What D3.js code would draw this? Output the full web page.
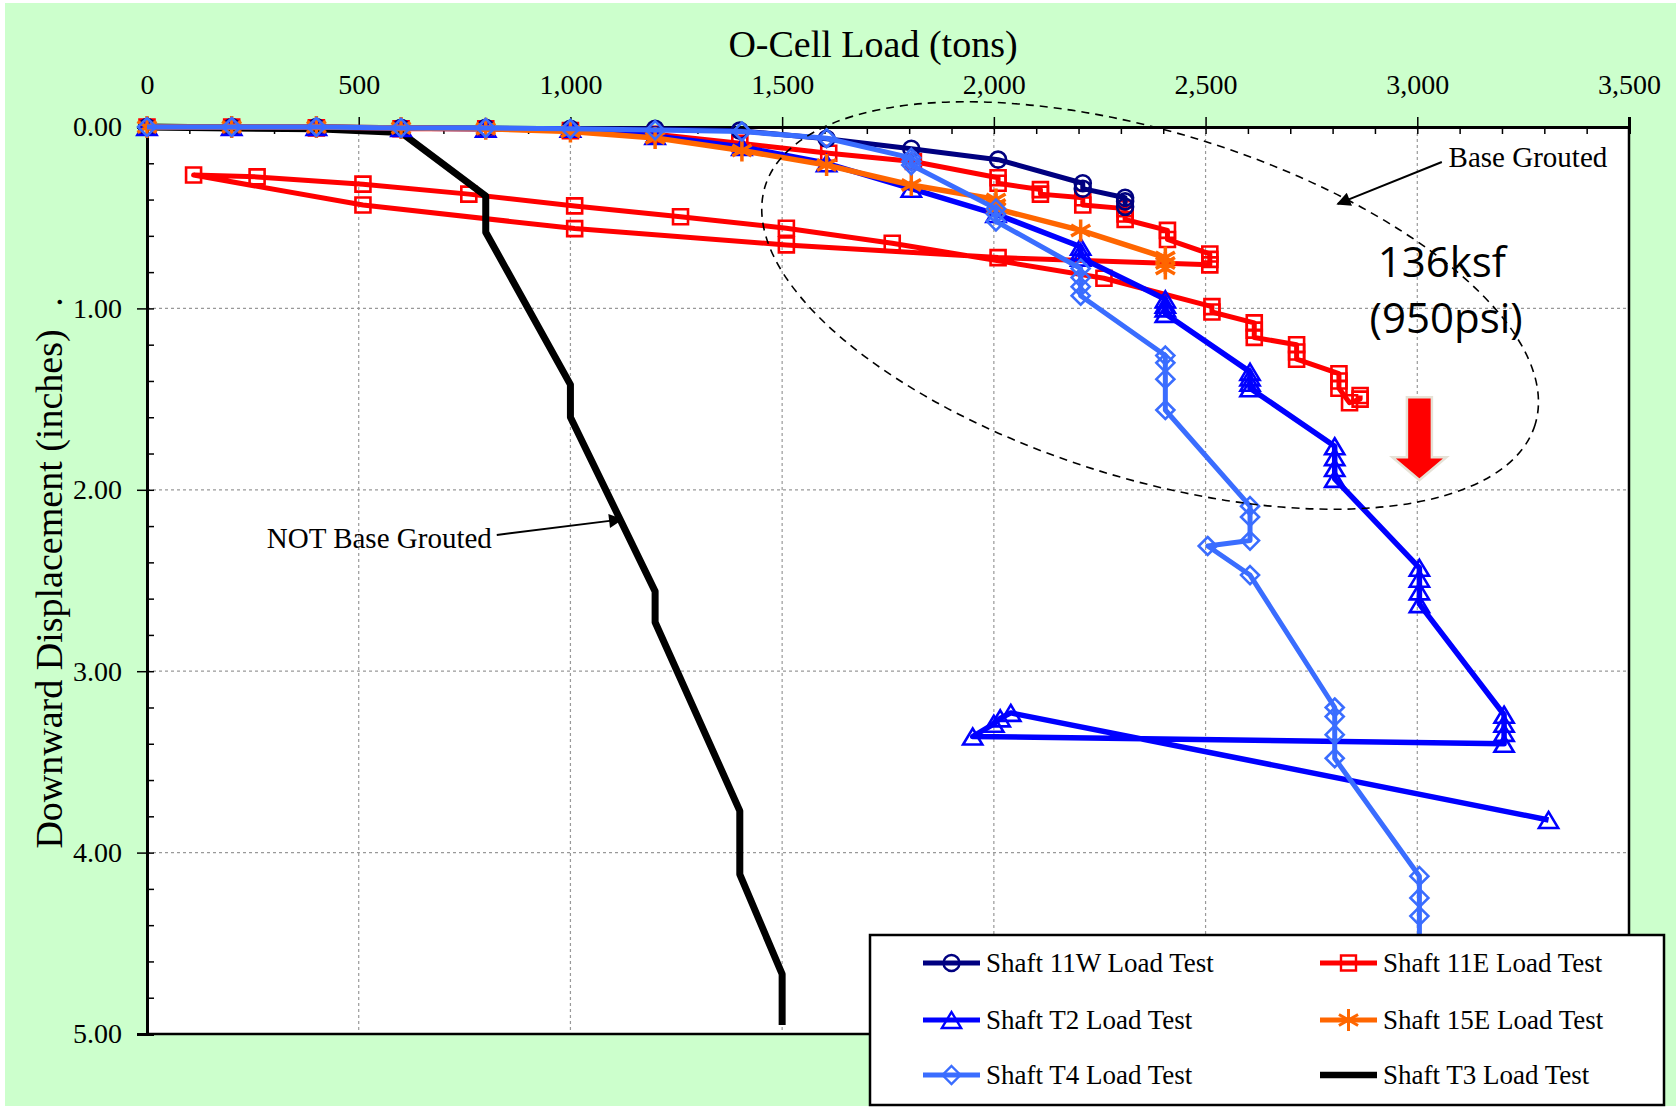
<!DOCTYPE html>
<html>
<head>
<meta charset="utf-8">
<script src="https://cdn.jsdelivr.net/npm/d3@7"></script>
<style>
  body { margin: 0; background: #fff; }
  text { font-family: "Liberation Serif", "Times New Roman", serif; fill: #000; }
</style>
</head>
<body>
<svg id="chart"></svg>
<script>
// axis ticks
const xTicks = [0, 500, 1000, 1500, 2000, 2500, 3000, 3500];
const yTicks = [0, 1, 2, 3, 4, 5];

// Shaft 11W
const w11Load = [0, 200, 400, 600, 800, 1000, 1200, 1400, 1605, 1805, 2010, 2210, 2210, 2310, 2310, 2310];
const w11Disp = [0, 0, 0, 0.005, 0.005, 0.01, 0.01, 0.02, 0.065, 0.12, 0.18, 0.31, 0.34, 0.39, 0.41, 0.44];

// Shaft 11E (load, unload, reload)
const e11Load = [0, 200, 400, 600, 800, 1000, 1200, 1400, 1610, 1810, 2010, 2010, 2110, 2110, 2210, 2210,
  2310, 2310, 2310, 2410, 2410, 2510, 2510, 2510,
  2010, 1510, 1010, 510, 110,
  260, 510, 760, 1010, 1260, 1510, 1760, 2260, 2515, 2515,
  2615, 2615, 2615, 2715, 2715, 2715, 2815, 2815, 2815, 2840, 2865, 2865];
const e11Disp = [0, 0, 0.005, 0.01, 0.01, 0.02, 0.04, 0.09, 0.145, 0.19, 0.28, 0.31, 0.345, 0.37, 0.39, 0.43,
  0.45, 0.48, 0.51, 0.57, 0.62, 0.70, 0.73, 0.76,
  0.72, 0.65, 0.56, 0.43, 0.265,
  0.275, 0.315, 0.37, 0.435, 0.495, 0.558, 0.641, 0.834, 0.99, 1.02,
  1.08, 1.12, 1.16, 1.20, 1.24, 1.28, 1.36, 1.40, 1.44, 1.52, 1.50, 1.48];

// Shaft T2
const t2Load = [0, 200, 400, 600, 800, 1000, 1200, 1405, 1605, 1805, 2005, 2205, 2205, 2205,
  2405, 2405, 2405, 2405, 2605, 2605, 2605, 2605, 2805, 2805, 2805, 2805,
  3005, 3005, 3005, 3005, 3205, 3205, 3205, 3205, 1950, 2000, 2015, 2040, 3310];
const t2Disp = [0, 0, 0, 0.005, 0.01, 0.01, 0.05, 0.11, 0.20, 0.34, 0.48, 0.66, 0.69, 0.72,
  0.95, 0.98, 1.00, 1.03, 1.35, 1.38, 1.41, 1.44, 1.76, 1.82, 1.88, 1.94,
  2.43, 2.49, 2.56, 2.63, 3.24, 3.29, 3.34, 3.40, 3.36, 3.29, 3.26, 3.23, 3.82];

// Shaft 15E
const e15Load = [0, 200, 400, 600, 800, 1000, 1200, 1405, 1605, 1805, 2005, 2005, 2005, 2205, 2405, 2405, 2405];
const e15Disp = [0, 0, 0, 0.005, 0.01, 0.025, 0.06, 0.13, 0.21, 0.32, 0.40, 0.43, 0.45, 0.57, 0.72, 0.75, 0.78];

// Shaft T4
const t4Load = [0, 200, 400, 600, 800, 1000, 1200, 1405, 1605, 1805, 1805, 1805, 2005, 2005, 2005,
  2205, 2205, 2205, 2205, 2405, 2405, 2405, 2405, 2605, 2605, 2605, 2505, 2605,
  2805, 2805, 2805, 2805, 3005, 3005, 3005, 3005];
const t4Disp = [0, 0, 0, 0.005, 0.005, 0.01, 0.017, 0.025, 0.062, 0.17, 0.19, 0.21, 0.45, 0.48, 0.52,
  0.78, 0.83, 0.88, 0.93, 1.26, 1.30, 1.39, 1.56, 2.09, 2.15, 2.28, 2.31, 2.47,
  3.20, 3.25, 3.35, 3.48, 4.13, 4.25, 4.35, 4.60];

// Shaft T3 (not base grouted)
const t3Load = [0, 200, 400, 600, 800, 800, 1000, 1000, 1200, 1200, 1400, 1400, 1500, 1500];
const t3Disp = [0, 0.005, 0.01, 0.03, 0.38, 0.58, 1.42, 1.60, 2.56, 2.73, 3.77, 4.12, 4.67, 4.95];

const W = 1680, H = 1108;
const svg = d3.select("#chart").attr("width", W).attr("height", H);

svg.append("rect").attr("x", 5).attr("y", 3).attr("width", 1671).attr("height", 1103).attr("fill", "#ccffcc");

const x = d3.scaleLinear().domain([0, 3500]).range([147, 1629]);
const y = d3.scaleLinear().domain([0, 5]).range([127, 1034]);

svg.append("rect")
  .attr("x", x(0)).attr("y", y(0))
  .attr("width", x(3500) - x(0)).attr("height", y(5) - y(0))
  .attr("fill", "#fff");

// grid
svg.append("g").selectAll("line")
  .data(xTicks.slice(1, -1))
  .enter().append("line")
  .attr("x1", d => x(d)).attr("x2", d => x(d))
  .attr("y1", y(0)).attr("y2", y(5))
  .attr("stroke", "#999").attr("stroke-width", 1.2).attr("stroke-dasharray", "3,3");
svg.append("g").selectAll("line")
  .data(yTicks.slice(1, -1))
  .enter().append("line")
  .attr("y1", d => y(d)).attr("y2", d => y(d))
  .attr("x1", x(0)).attr("x2", x(3500))
  .attr("stroke", "#999").attr("stroke-width", 1.2).attr("stroke-dasharray", "3,3");

// frame right/bottom
svg.append("path")
  .attr("d", `M${x(0)},${y(5)}H${x(3500)}V${y(0)}`)
  .attr("fill", "none").attr("stroke", "#000").attr("stroke-width", 2.5);

// axes
svg.append("g")
  .attr("transform", `translate(0,${y(0)})`)
  .call(d3.axisTop(x).tickValues(xTicks).tickFormat(d3.format(",")).tickSize(10).tickPadding(23));
svg.append("g")
  .attr("transform", `translate(0,${y(0)})`)
  .call(d3.axisTop(x).tickValues(d3.range(0, 3501, 100)).tickFormat("").tickSize(-7));
svg.append("g")
  .attr("transform", `translate(${x(0)},0)`)
  .call(d3.axisLeft(y).tickValues(yTicks).tickFormat(d3.format(".2f")).tickSize(10).tickPadding(15));
svg.append("g")
  .attr("transform", `translate(${x(0)},0)`)
  .call(d3.axisLeft(y).tickValues(d3.range(0, 5.01, 0.2)).tickFormat("").tickSize(-7));

svg.selectAll(".domain").attr("stroke-width", 3).attr("stroke", "#000");
svg.selectAll(".tick line").attr("stroke", "#000").attr("stroke-width", 1.5);
svg.selectAll(".tick text")
  .style("font-family", '"Liberation Serif", "Times New Roman", serif')
  .style("font-size", "28px").attr("fill", "#000");

// titles
svg.append("text")
  .attr("x", 873).attr("y", 57)
  .attr("text-anchor", "middle")
  .style("font-size", "38px")
  .text("O-Cell Load (tons)");
svg.append("text")
  .attr("transform", "translate(62,589) rotate(-90)")
  .attr("text-anchor", "middle")
  .style("font-size", "38px")
  .text("Downward Displacement (inches)");
svg.append("text")
  .attr("transform", "translate(62,302) rotate(-90)")
  .attr("text-anchor", "middle")
  .style("font-size", "38px")
  .text(".");

// markers
const markerPath = {
  circle: r => `M${-r},0a${r},${r} 0 1,0 ${2 * r},0a${r},${r} 0 1,0 ${-2 * r},0`,
  square: r => `M${-r},${-r}h${2 * r}v${2 * r}h${-2 * r}Z`,
  triangle: r => `M0,${-r}L${r * 1.2},${r}L${-r * 1.2},${r}Z`,
  diamond: r => `M0,${-r}L${r},0L0,${r}L${-r},0Z`,
  asterisk: r => `M0,${-r}V${r}M${-r * 0.87},${-r / 2}L${r * 0.87},${r / 2}M${-r * 0.87},${r / 2}L${r * 0.87},${-r / 2}`
};

const series = [
  { name: "Shaft 11W Load Test", loads: w11Load, disp: w11Disp, color: "#000080", width: 5, marker: "circle", r: 8 },
  { name: "Shaft 11E Load Test", loads: e11Load, disp: e11Disp, color: "#ff0000", width: 5, marker: "square", r: 7.5 },
  { name: "Shaft T2 Load Test", loads: t2Load, disp: t2Disp, color: "#0000ff", width: 5.5, marker: "triangle", r: 8 },
  { name: "Shaft 15E Load Test", loads: e15Load, disp: e15Disp, color: "#ff6600", width: 5.5, marker: "asterisk", r: 11 },
  { name: "Shaft T4 Load Test", loads: t4Load, disp: t4Disp, color: "#3a6dff", width: 5, marker: "diamond", r: 9 },
  { name: "Shaft T3 Load Test", loads: t3Load, disp: t3Disp, color: "#000000", width: 7, marker: null }
];

// 11E, T3, 11W, T2, 15E, T4
const drawOrder = [1, 5, 0, 2, 3, 4];
const line = d3.line().x(d => x(d[0])).y(d => y(d[1]));

drawOrder.forEach(i => {
  const s = series[i];
  const pts = d3.zip(s.loads, s.disp);
  const g = svg.append("g");
  g.append("path")
    .attr("d", line(pts))
    .attr("fill", "none")
    .attr("stroke", s.color)
    .attr("stroke-width", s.width)
    .attr("stroke-linejoin", "round");
  if (s.marker) {
    g.selectAll("path.m")
      .data(pts)
      .enter()
      .append("path")
      .attr("class", "m")
      .attr("transform", d => `translate(${x(d[0])},${y(d[1])})`)
      .attr("d", markerPath[s.marker](s.r))
      .attr("fill", "none")
      .attr("stroke", s.color)
      .attr("stroke-width", s.marker === "asterisk" ? 3.5 : 2.6);
  }
});

// annotations
svg.append("ellipse")
  .attr("transform", `translate(${x(2369)},${y(0.984)}) rotate(17.2)`)
  .attr("rx", 403).attr("ry", 173)
  .attr("fill", "none").attr("stroke", "#000")
  .attr("stroke-width", 1.6).attr("stroke-dasharray", "8,6");

const defs = svg.append("defs");
defs.append("marker")
  .attr("id", "head")
  .attr("viewBox", "0 0 10 10")
  .attr("refX", 9).attr("refY", 5)
  .attr("markerWidth", 16).attr("markerHeight", 14)
  .attr("markerUnits", "userSpaceOnUse")
  .attr("orient", "auto")
  .append("path").attr("d", "M0,0L10,5L0,10Z").attr("fill", "#000");

svg.append("text")
  .attr("x", x(3074)).attr("y", y(0.22))
  .style("font-size", "29px")
  .text("Base Grouted");
svg.append("line")
  .attr("x1", x(3058)).attr("y1", y(0.193))
  .attr("x2", x(2812)).attr("y2", y(0.424))
  .attr("stroke", "#000").attr("stroke-width", 2)
  .attr("marker-end", "url(#head)");

svg.append("text")
  .attr("x", x(283)).attr("y", y(2.32))
  .style("font-size", "29px")
  .text("NOT Base Grouted");
svg.append("line")
  .attr("x1", x(826)).attr("y1", y(2.249))
  .attr("x2", x(1121)).attr("y2", y(2.163))
  .attr("stroke", "#000").attr("stroke-width", 2)
  .attr("marker-end", "url(#head)");

svg.append("text")
  .attr("x", x(3058)).attr("y", y(0.827))
  .attr("text-anchor", "middle")
  .style("font-family", '"Open Sans", sans-serif')
  .style("font-size", "42px")
  .text("136ksf");
svg.append("text")
  .attr("x", x(3068)).attr("y", y(1.136))
  .attr("text-anchor", "middle")
  .style("font-family", '"Open Sans", sans-serif')
  .style("font-size", "42px")
  .text("(950psi)");

// red arrow at 3000 tons
const ax = x(3005), aTop = y(1.49), aNeck = y(1.82), aTip = y(1.946);
svg.append("path")
  .attr("d", `M${ax - 12.5},${aTop}H${ax + 12.5}V${aNeck}H${ax + 27}L${ax},${aTip}L${ax - 27},${aNeck}H${ax - 12.5}Z`)
  .attr("fill", "#ff0000")
  .attr("stroke", "#e6e2d6")
  .attr("stroke-width", 2.5);

// legend
const lg = svg.append("g");
lg.append("rect")
  .attr("x", 870).attr("y", 935).attr("width", 794).attr("height", 170)
  .attr("fill", "#fff").attr("stroke", "#000").attr("stroke-width", 2.5);

series.forEach((s, i) => {
  const lx = i % 2 === 0 ? 923 : 1320;
  const ly = [963, 1020, 1075][Math.floor(i / 2)];
  const item = lg.append("g");
  item.append("line")
    .attr("x1", lx).attr("x2", lx + 57)
    .attr("y1", ly).attr("y2", ly)
    .attr("stroke", s.color).attr("stroke-width", s.marker ? 5 : 6.5);
  if (s.marker) {
    item.append("path")
      .attr("transform", `translate(${lx + 28.5},${ly})`)
      .attr("d", markerPath[s.marker](s.r))
      .attr("fill", "none")
      .attr("stroke", s.color)
      .attr("stroke-width", s.marker === "asterisk" ? 3 : 2.4);
  }
  item.append("text")
    .attr("x", lx + 63).attr("y", ly + 9)
    .style("font-size", "27px")
    .text(s.name);
});
</script>
</body>
</html>
